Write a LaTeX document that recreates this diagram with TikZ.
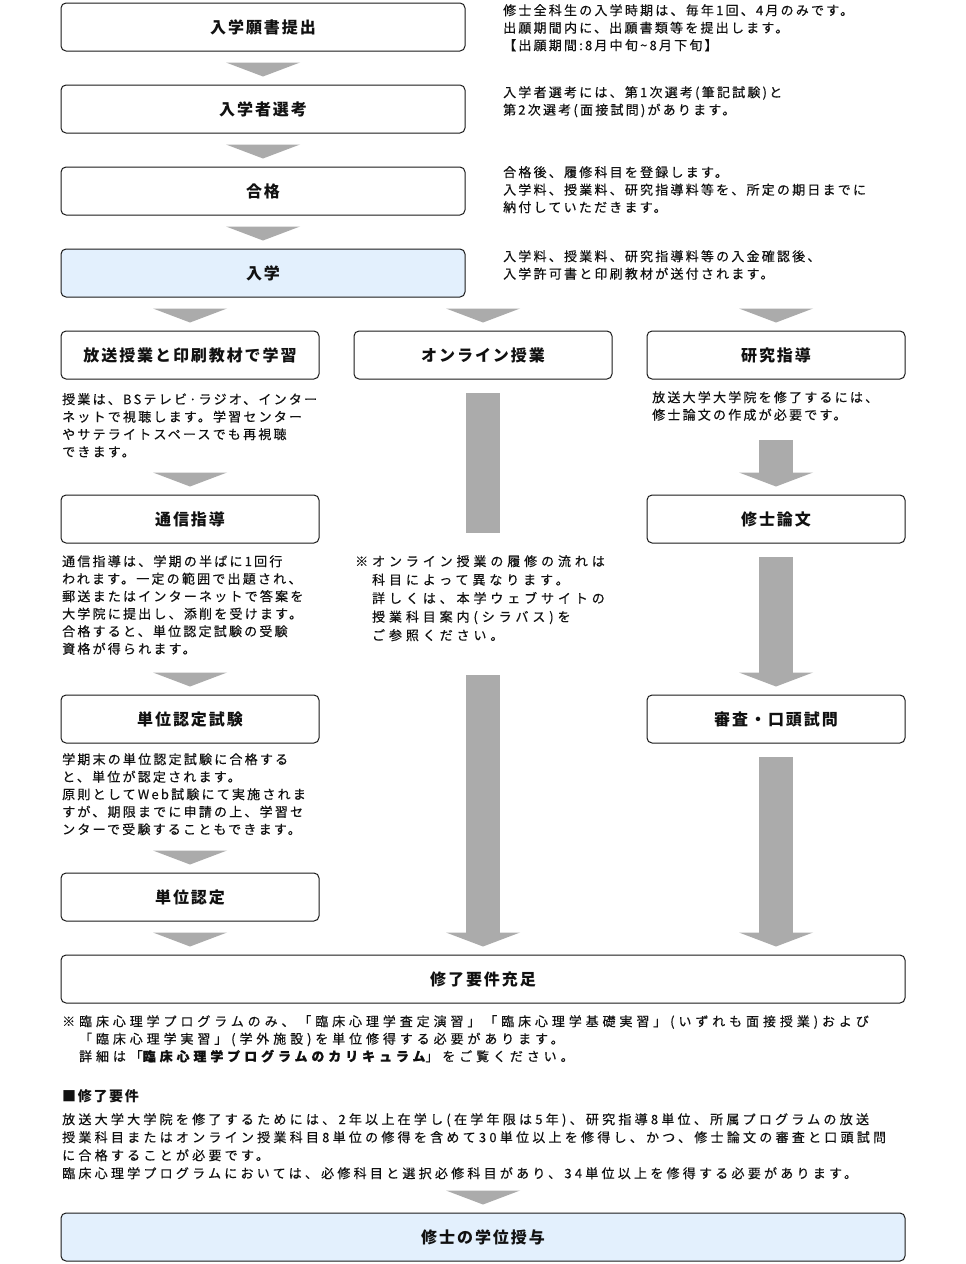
\documentclass[tikz,border=0pt]{standalone}
\usepackage{fontspec}
\usepackage{xcolor}
\usepackage{tikz}
\usetikzlibrary{calc,positioning}
\newfontfamily\jp{Noto Sans CJK JP}[LetterSpace=17, FakeBold=0.35]
\newfontfamily\jpwide{Noto Sans CJK JP}[LetterSpace=25, FakeBold=0.35]
\newfontfamily\jpnote{Noto Sans CJK JP}[LetterSpace=30, FakeBold=0.35]
\newfontfamily\jpbox{Noto Sans CJK JP}[LetterSpace=12]
\definecolor{frame}{HTML}{1A1A1A}
\definecolor{ink}{HTML}{111111}
\definecolor{arrowgray}{HTML}{ABABAB}
\definecolor{enter}{HTML}{E3F0FD}
\tikzset{
  box/.style={draw=frame, line width=1pt, rounded corners=5pt, fill=white, minimum height=48pt, inner sep=0pt, text=ink, font=\jpbox\bfseries\fontsize{16}{19}\selectfont},
  boxhi/.style={box, fill=enter},
  txt/.style={anchor=north west, align=left, inner sep=0pt, text=ink, font=\jp\fontsize{13}{17.5}\selectfont},
  txtwide/.style={txt, font=\jpwide\fontsize{13}{18}\selectfont},
  txtnote/.style={txt, font=\jpnote\fontsize{13}{17.5}\selectfont},
}
% grey step triangle, tip above the north of #2, at the x of #1
\newcommand\gtri[2]{\fill[arrowgray] ($(#1 |- #2.north)+(-37,-22)$) -- ($(#1 |- #2.north)+(37,-22)$) -- ($(#1 |- #2.north)+(0,-8)$) -- cycle;}
% grey bar from #1 down to the node #2, with its head
\newcommand\gbar[2]{\fill[arrowgray] ($(#1)+(-17,0)$) rectangle ($(#1 |- #2.north)+(17,-21)$); \gtri{#1}{#2}}

\begin{document}
\begin{tikzpicture}[x=1pt, y=-1pt]
\fill[white] (0,0) rectangle (966,1264);
\useasboundingbox (0,0) rectangle (966,1264);

% main steps
\node[box, minimum width=404pt] (apply) at (263,27) {入学願書提出};
\node[box, minimum width=404pt] (select) at (263,109) {入学者選考};
\node[box, minimum width=404pt] (pass) at (263,191) {合格};
\node[boxhi, minimum width=404pt] (enter) at (263,273) {入学};

\node[txt] (applytxt) at (503,4) {修士全科生の入学時期は、毎年1回、4月のみです。\\出願期間内に、出願書類等を提出します。\\【出願期間:8月中旬\textasciitilde 8月下旬】};
\node[txt] (selecttxt) at (503,86) {入学者選考には、第1次選考(筆記試験)と\\第2次選考(面接試問)があります。};
\node[txt] (passtxt) at (503,166) {合格後、履修科目を登録します。\\入学料、授業料、研究指導料等を、所定の期日までに\\納付していただきます。};
\node[txt] (entertxt) at (503,250) {入学料、授業料、研究指導料等の入金確認後、\\入学許可書と印刷教材が送付されます。};

% three columns
\node[box, minimum width=258pt] (study) at (190,355) {放送授業と印刷教材で学習};
\node[box, minimum width=258pt] (online) at (483,355) {オンライン授業};
\node[box, minimum width=258pt] (research) at (776,355) {研究指導};

\node[txt] (studytxt) at (62,393) {授業は、BSテレビ·ラジオ、インター\\ネットで視聴します。学習センター\\やサテライトスペースでも再視聴\\できます。};
\node[box, minimum width=258pt] (corr) at (190,519) {通信指導};
\node[txt] (corrtxt) at (62,555) {通信指導は、学期の半ばに1回行\\われます。一定の範囲で出題され、\\郵送またはインターネットで答案を\\大学院に提出し、添削を受けます。\\合格すると、単位認定試験の受験\\資格が得られます。};
\node[box, minimum width=258pt] (exam) at (190,719) {単位認定試験};
\node[txt] (examtxt) at (62,753) {学期末の単位認定試験に合格する\\と、単位が認定されます。\\原則としてWeb試験にて実施されま\\すが、期限までに申請の上、学習セ\\ンターで受験することもできます。};
\node[box, minimum width=258pt] (credit) at (190,897) {単位認定};

\node[txtnote, font=\jpnote\fontsize{13}{18.5}\selectfont] (onlinetxt) at (355,555) {※オンライン授業の履修の流れは\\　科目によって異なります。\\　詳しくは、本学ウェブサイトの\\　授業科目案内(シラバス)を\\　ご参照ください。};

\node[txt] (researchtxt) at (652,391) {放送大学大学院を修了するには、\\修士論文の作成が必要です。};
\node[box, minimum width=258pt] (thesis) at (776,519) {修士論文};
\node[box, minimum width=258pt] (defense) at (776,719) {審査・口頭試問};

% completion
\node[box, minimum width=844pt] (done) at (483,979) {修了要件充足};
\node[txtnote] (donenote) at (62,1015) {※臨床心理学プログラムのみ、「臨床心理学査定演習」「臨床心理学基礎実習」(いずれも面接授業)および\\　「臨床心理学実習」(学外施設)を単位修得する必要があります。\\　詳細は「{\bfseries 臨床心理学プログラムのカリキュラム}」をご覧ください。};
\node[txt, font=\jpbox\bfseries\fontsize{14}{17.5}\selectfont] (reqhead) at (62,1089) {■修了要件};
\node[txtwide] (reqtxt) at (62,1113) {放送大学大学院を修了するためには、2年以上在学し(在学年限は5年)、研究指導8単位、所属プログラムの放送\\授業科目またはオンライン授業科目8単位の修得を含めて30単位以上を修得し、かつ、修士論文の審査と口頭試問\\に合格することが必要です。\\臨床心理学プログラムにおいては、必修科目と選択必修科目があり、34単位以上を修得する必要があります。};
\node[boxhi, minimum width=844pt] (degree) at (483,1237) {修士の学位授与};

% grey steps
\gtri{apply}{select}
\gtri{select}{pass}
\gtri{pass}{enter}
\gtri{study}{study}
\gtri{online}{online}
\gtri{research}{research}
\gtri{study}{corr}
\gtri{corr}{exam}
\gtri{exam}{credit}
\gtri{credit}{done}
\fill[arrowgray] ($(online.south)+(-17,13)$) rectangle ($(online.south)+(17,153)$);
\coordinate (onlinego) at (483,675);
\gbar{onlinego}{done}
\coordinate (thesisgo) at (776,440);
\gbar{thesisgo}{thesis}
\coordinate (defensego) at ($(thesis.south)+(0,13)$);
\gbar{defensego}{defense}
\coordinate (donego) at ($(defense.south)+(0,13)$);
\gbar{donego}{done}
\gtri{done}{degree}
\end{tikzpicture}
\end{document}
